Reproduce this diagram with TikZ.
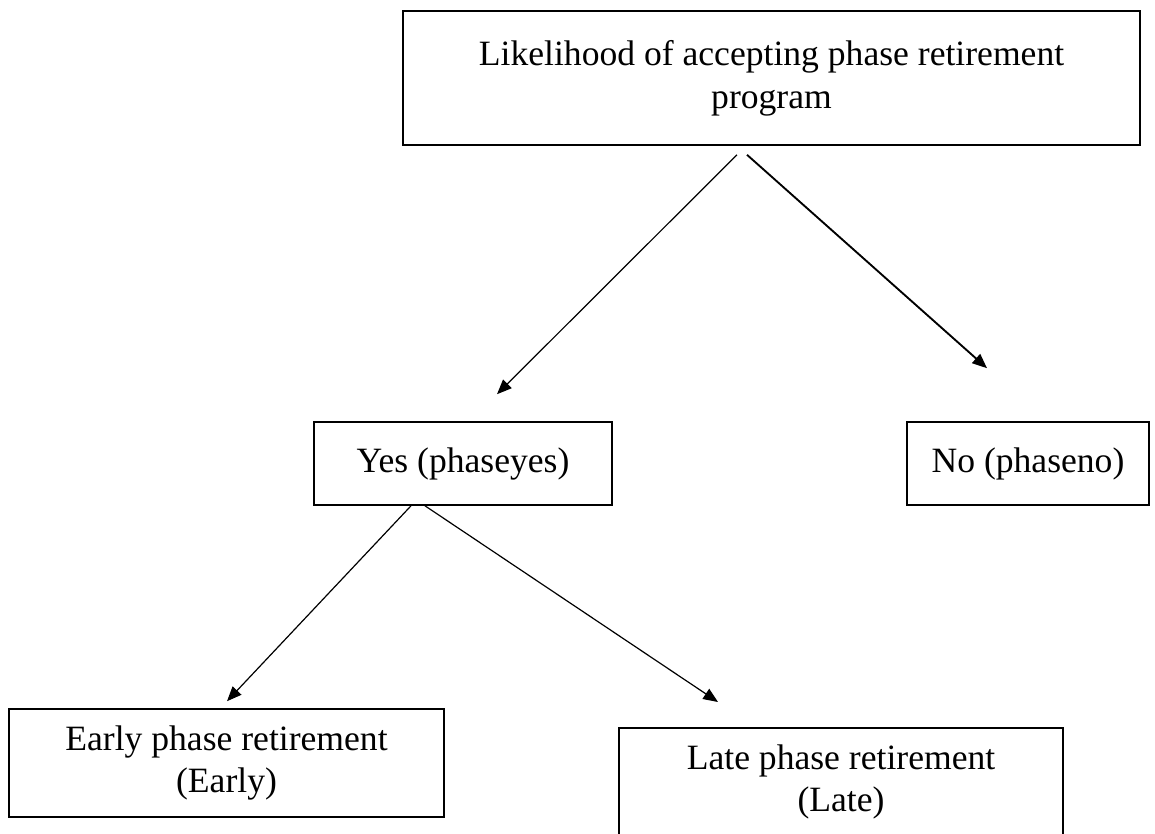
\documentclass[tikz,border=0pt]{standalone}
\usepackage{fontspec}
\setmainfont{Liberation Serif}
\usetikzlibrary{arrows.meta,calc}
\begin{document}
\begin{tikzpicture}[x=0.75pt,y=-0.75pt,
  box/.style={draw=black,line width=1.2pt,rectangle,align=center,inner sep=0pt,
    font=\fontsize{26.7}{32}\selectfont},
  arr/.style={draw=black,line width=0.9pt,-{Triangle[length=11pt,width=9pt]}}]
\useasboundingbox (0,0) rectangle (1155,833);
\node[box,minimum width=552.75pt,minimum height=100.5pt] (top) at (771.5,78) {Likelihood of accepting phase retirement\\program};
\node[box,minimum width=223.5pt,minimum height=62.25pt] (yes) at (463,463.5) {Yes (phaseyes)};
\node[box,minimum width=181.5pt,minimum height=62.25pt] (no) at (1028,463.5) {No (phaseno)};
\node[box,minimum width=326pt,minimum height=81pt] (early) at (226.5,763) {Early phase retirement\\(Early)};
\node[box,minimum width=333pt,minimum height=81pt,anchor=north] (late) at (841,727) {Late phase retirement\\(Late)};
\draw[arr] ($(top.south)+(-34.5,9)$) -- ($(yes.north)+(34,-27)$);
\draw[arr,line width=1.4pt] ($(top.south)+(-24.5,9)$) -- ($(no.north)+(-41,-53)$);
\draw[arr] ($(yes.south)+(-52,0)$) -- ($(early.north)+(0.5,-7)$);
\draw[arr] ($(yes.south)+(-38,0)$) -- ($(late.north)+(-123,-25)$);
\end{tikzpicture}
\end{document}
